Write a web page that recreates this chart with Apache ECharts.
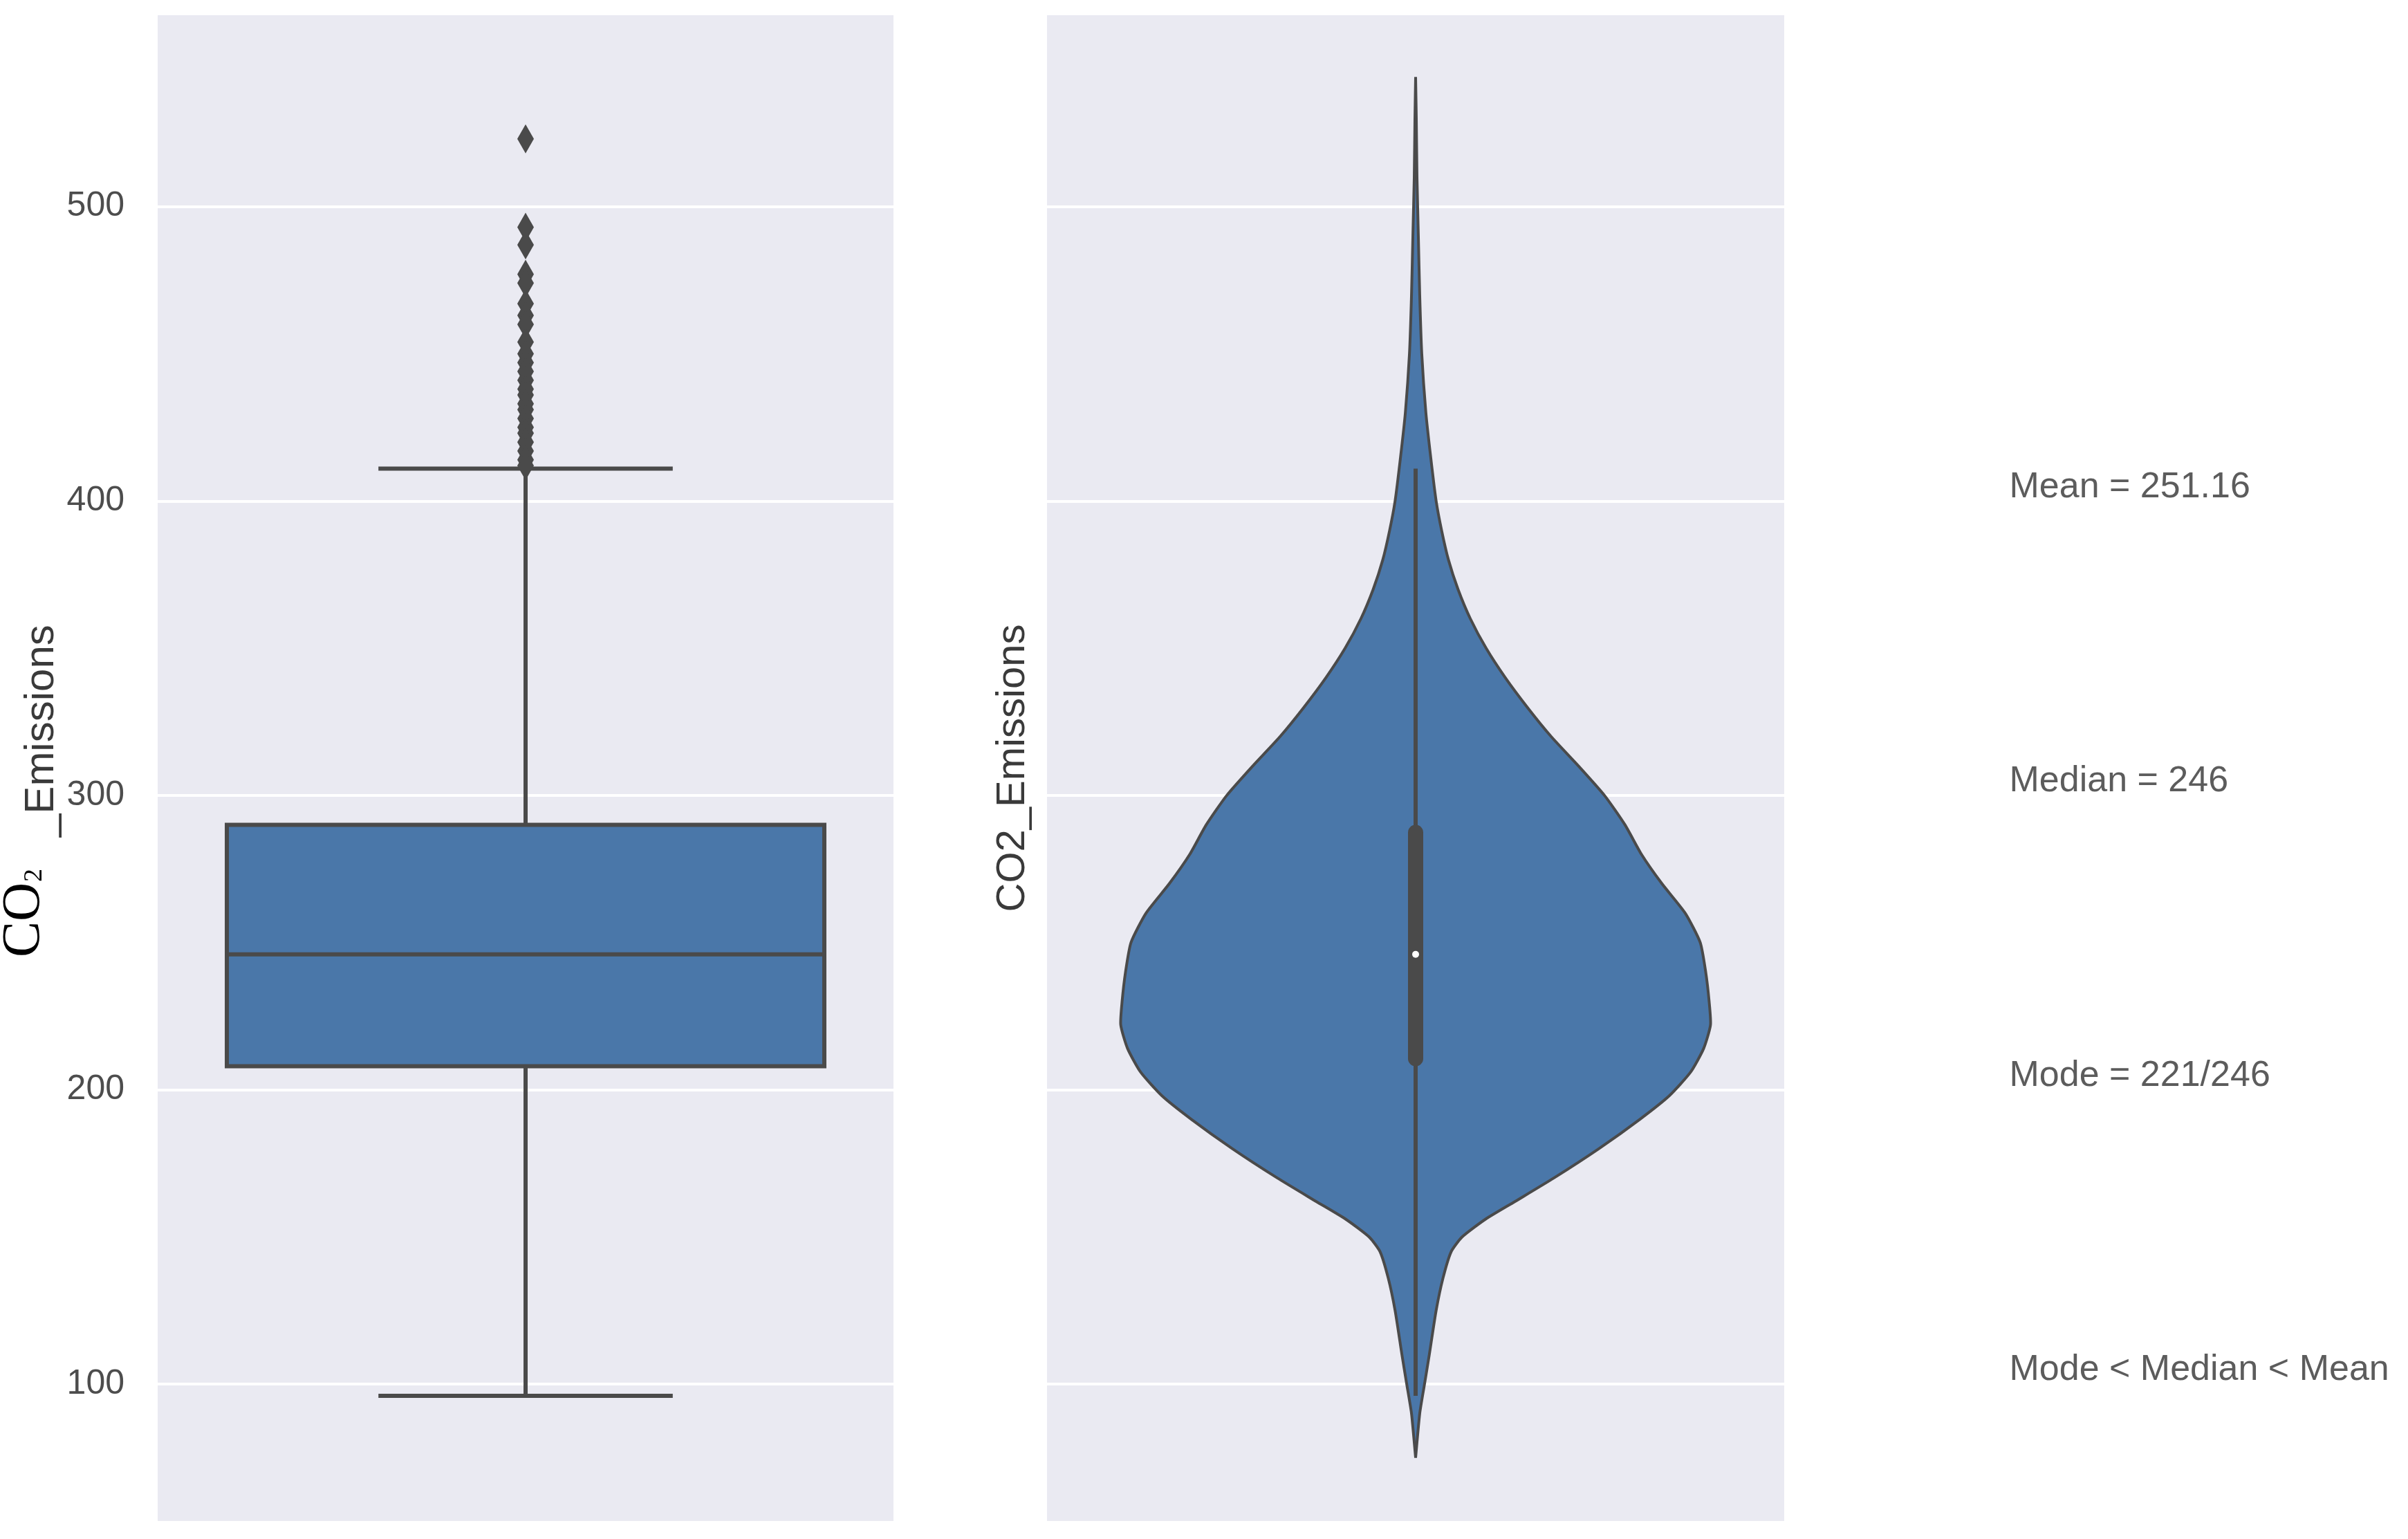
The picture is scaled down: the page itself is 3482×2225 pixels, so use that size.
<!DOCTYPE html>
<html>
<head>
<meta charset="utf-8">
<script src="https://cdn.jsdelivr.net/npm/echarts@6/dist/echarts.min.js"></script>
<style>
  html, body { margin: 0; padding: 0; background: #ffffff; }
  #chart { width: 3482px; height: 2225px; }
</style>
</head>
<body>
<div id="chart"></div>
<script>
// box plot summary: lower whisker, Q1, median, Q3, upper whisker
const boxStats = [96, 208, 246, 290, 411]
const outliers = [523, 493, 487, 477, 474, 467, 463, 460, 454, 450, 447, 444, 441, 438, 436, 433, 431, 428, 425, 423, 420, 417, 414, 412]

// violin outline: CO2 value and half width in px (max 431)
const violinValues = [544, 530, 510, 490, 470, 450, 430, 415, 400, 390, 380, 370, 360, 350, 340, 330, 320, 310, 300, 290, 280, 270, 260, 250, 240, 230, 222, 214, 206, 198, 190, 180, 170, 162, 156, 150, 145, 136, 125, 110, 100, 90, 75]
const violinHalfWidths = [0, 1, 2, 4, 6, 9, 15, 22, 30, 38, 48, 62, 80, 103, 131, 163, 198, 238, 276, 306, 330, 360, 394, 416, 424, 429, 431, 421, 402, 371, 328, 268, 202, 145, 102, 68, 52, 40, 30, 20, 13, 6, 0]

const notes = ['Mean = 251.16', 'Median = 246', 'Mode = 221/246', 'Mode < Median < Mean']
const noteValues = [400, 300, 200, 100]

const Y_MIN = 53.5
const Y_MAX = 565
const FILL = '#4a77a9'
const EDGE = '#4a4a4a'
const BG = '#eaeaf2'

const widestHalf = Math.max(...violinHalfWidths)

const chart = echarts.init(document.getElementById('chart'))

const yBase = {
    type: 'value',
    min: Y_MIN,
    max: Y_MAX,
    axisLine: { show: false },
    axisTick: { show: false },
    splitLine: { show: true, showMinLine: false, showMaxLine: false, lineStyle: { color: '#ffffff', width: 4 } },
}

const renderBox = (params, api) => {
    const [lo, q1, med, q3, hi] = boxStats
    const x = api.value(0)
    const p = (dx, v) => api.coord([x + dx, v])
    const ls = { stroke: EDGE, lineWidth: 6 }
    const line = (a, b) => ({ type: 'line', shape: { x1: a[0], y1: a[1], x2: b[0], y2: b[1] }, style: ls })
    const tl = p(-0.406, q3)
    const br = p(0.406, q1)
    return {
        type: 'group',
        children: [
            line(p(0, q3), p(0, hi)),
            line(p(0, q1), p(0, lo)),
            line(p(-0.2, hi), p(0.2, hi)),
            line(p(-0.2, lo), p(0.2, lo)),
            { type: 'rect', shape: { x: tl[0], y: tl[1], width: br[0] - tl[0], height: br[1] - tl[1] }, style: { fill: FILL, stroke: EDGE, lineWidth: 6 } },
            line(p(-0.406, med), p(0.406, med)),
        ],
    }
}

const renderViolin = (params, api) => {
    const [lo, q1, med, q3, hi] = boxStats
    const x = api.value(0)
    const rel = violinHalfWidths.map(w => 0.4 * w / widestHalf)
    const right = violinValues.map((v, i) => api.coord([x + rel[i], v]))
    const left = violinValues.map((v, i) => api.coord([x - rel[i], v])).reverse()
    const a = api.coord([x, lo])
    const b = api.coord([x, hi])
    const c = api.coord([x, q1])
    const d = api.coord([x, q3])
    const m = api.coord([x, med])
    return {
        type: 'group',
        children: [
            { type: 'polygon', shape: { points: right.concat(left), smooth: 0.2 }, style: { fill: FILL, stroke: EDGE, lineWidth: 4 } },
            { type: 'line', shape: { x1: a[0], y1: a[1], x2: b[0], y2: b[1] }, style: { stroke: EDGE, lineWidth: 6 } },
            { type: 'line', shape: { x1: c[0], y1: c[1] - 11, x2: d[0], y2: d[1] + 11 }, style: { stroke: EDGE, lineWidth: 22, lineCap: 'round' } },
            { type: 'circle', shape: { cx: m[0], cy: m[1], r: 5 }, style: { fill: '#ffffff' } },
        ],
    }
}

chart.setOption({
    animation: false,
    grid: [
        { left: 228, top: 22, width: 1064, height: 2177, show: true, backgroundColor: BG, borderWidth: 0 },
        { left: 1514, top: 22, width: 1066, height: 2177, show: true, backgroundColor: BG, borderWidth: 0 },
        { left: 2905, top: 22, width: 540, height: 2177 },
    ],
    xAxis: [
        { gridIndex: 0, type: 'value', min: -0.5, max: 0.5, show: false },
        { gridIndex: 1, type: 'value', min: -0.5, max: 0.5, show: false },
        { gridIndex: 2, type: 'value', min: 0, max: 1, show: false },
    ],
    yAxis: [
        {
            ...yBase,
            gridIndex: 0,
            axisLabel: {
                show: true,
                margin: 48,
                fontSize: 50,
                fontFamily: "'Liberation Sans', Arial, sans-serif",
                color: '#4d4d4d',
                showMinLabel: false,
                showMaxLabel: false,
                formatter: v => (v % 100 === 0 ? String(v) : ''),
            },
        },
        {
            ...yBase,
            gridIndex: 1,
            axisLabel: { show: false },
            name: 'CO2_Emissions',
            nameLocation: 'middle',
            nameRotate: 90,
            nameGap: 20,
            nameTextStyle: { fontSize: 58, fontFamily: "'Liberation Sans', Arial, sans-serif", color: '#3a3a3a' },
        },
        { gridIndex: 2, type: 'value', min: Y_MIN, max: Y_MAX, show: false },
    ],
    graphic: [
        { type: 'text', x: 36, y: 1384, rotation: Math.PI / 2, style: { text: 'CO', fontSize: 78, fontFamily: "'Liberation Serif', 'Times New Roman', serif", fill: '#000000', align: 'left', verticalAlign: 'middle' } },
        { type: 'text', x: 50, y: 1275, rotation: Math.PI / 2, style: { text: '2', fontSize: 38, fontFamily: "'Liberation Serif', 'Times New Roman', serif", fill: '#000000', align: 'left', verticalAlign: 'middle' } },
        { type: 'text', x: 60, y: 1210, rotation: Math.PI / 2, style: { text: '_Emissions', fontSize: 60, fontFamily: "'Liberation Sans', Arial, sans-serif", fill: '#3a3a3a', align: 'left', verticalAlign: 'middle' } },
    ],
    series: [
        {
            type: 'custom',
            xAxisIndex: 0,
            yAxisIndex: 0,
            data: [[0, boxStats[2]]],
            renderItem: renderBox,
            z: 2,
        },
        {
            type: 'scatter',
            xAxisIndex: 0,
            yAxisIndex: 0,
            data: outliers.map(v => [0, v]),
            symbol: 'diamond',
            symbolSize: [24, 42],
            itemStyle: { color: EDGE, opacity: 1 },
            z: 3,
        },
        {
            type: 'custom',
            xAxisIndex: 1,
            yAxisIndex: 1,
            data: [[0, boxStats[2]]],
            renderItem: renderViolin,
            z: 2,
        },
        {
            type: 'scatter',
            xAxisIndex: 2,
            yAxisIndex: 2,
            data: noteValues.map((v, i) => ({ value: [0, v], name: notes[i] })),
            symbol: 'circle',
            symbolSize: 1,
            itemStyle: { color: 'rgba(0,0,0,0)' },
            label: {
                show: true,
                position: 'right',
                distance: 0,
                offset: [0, -20],
                formatter: p => p.name,
                fontSize: 52,
                fontFamily: "'Liberation Sans', Arial, sans-serif",
                color: '#333333',
            },
        },
    ],
})
</script>
</body>
</html>
